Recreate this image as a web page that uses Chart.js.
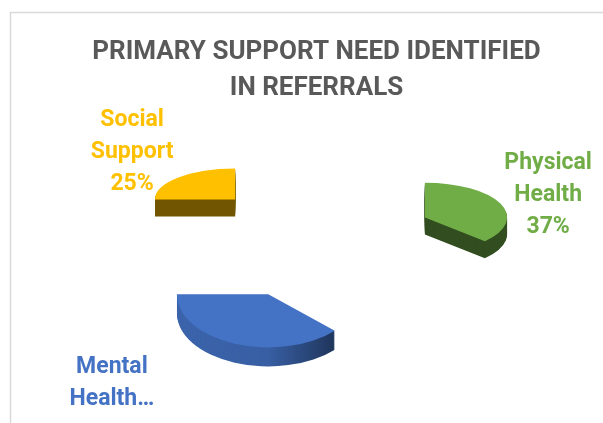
<!DOCTYPE html>
<html>
<head>
<meta charset="utf-8">
<script src="https://cdn.jsdelivr.net/npm/chart.js@4.4.0/dist/chart.umd.min.js"></script>
<style>
  html, body { margin: 0; padding: 0; background: #fff; }
  canvas { display: block; }
</style>
</head>
<body>
<canvas id="chart" width="603" height="423"></canvas>
<script>
// values
const categories = ['Physical Health', 'Mental Health', 'Social Support'];
const shares = [37, 38, 25];
const sliceColors = ['#70AD47', '#4472C4', '#FFC000'];
const titleLines = ['PRIMARY SUPPORT NEED IDENTIFIED', 'IN REFERRALS'];

// where each slice lands once pushed out, squashed and tilted (fake 3D)
function sliceFrame(arc, o) {
  const h = (arc.startAngle + arc.endAngle) / 2;
  const depth = Math.sin(h);                 // -1 at the back, +1 at the front
  const p = 1 + o.perspective * depth;
  return {
    h: h, p: p, depth: depth,
    s: o.tilt + o.tiltGain * depth,
    x: arc.x + Math.cos(h) * o.explode * p,
    y: arc.y + Math.sin(h) * o.explode * o.lift
  };
}

const pie3d = {
  id: 'pie3d',
  beforeDraw(chart) {
    // chart frame, runs off the right and bottom edges like the screenshot
    const ctx = chart.ctx;
    ctx.save();
    ctx.strokeStyle = '#d9d9d9';
    ctx.lineWidth = 1.5;
    ctx.strokeRect(10.5, 12.5, chart.width + 20, chart.height + 20);
    ctx.restore();
  },
  beforeDatasetsDraw(chart, args, o) {
    const ctx = chart.ctx;
    chart.getDatasetMeta(0).data.forEach((arc) => {
      const f = sliceFrame(arc, o);
      const thick = Math.round(o.thickness * f.p);
      const front = f.depth > 0.5;           // curved rim faces the viewer
      const place = (i) => {
        ctx.translate(f.x, f.y + i);
        ctx.scale(f.p, f.s * f.p);
        ctx.translate(-arc.x, -arc.y);
      };
      // side walls
      for (let i = thick; i > 0; i--) {
        ctx.save();
        ctx.filter = 'brightness(' + (front ? o.rimShade : o.shade) + ')';
        place(i);
        arc.draw(ctx);
        ctx.restore();
      }
      if (front) {
        // rim darkens towards its right end
        const r = arc.outerRadius * f.p;
        const g = ctx.createLinearGradient(f.x - r, 0, f.x + r, 0);
        g.addColorStop(0, 'rgba(0,0,0,0)');
        g.addColorStop(0.5, 'rgba(0,0,0,0.05)');
        g.addColorStop(0.85, 'rgba(0,0,0,0.45)');
        g.addColorStop(1, 'rgba(0,0,0,0.6)');
        ctx.save();
        ctx.globalCompositeOperation = 'source-atop';
        ctx.fillStyle = g;
        ctx.fillRect(f.x - r - 2, f.y - r - 2, 2 * r + 4, 2 * r + thick + 4);
        ctx.restore();
      }
      // top face
      ctx.save();
      place(0);
      arc.draw(ctx);
      ctx.restore();
    });
    return false;
  },
  afterDraw(chart, args, o) {
    const ctx = chart.ctx;
    ctx.save();
    ctx.font = 'bold ' + o.labelSize + 'px Roboto, "Open Sans", sans-serif';
    ctx.textAlign = 'center';
    ctx.textBaseline = 'middle';
    chart.getDatasetMeta(0).data.forEach((arc, i) => {
      const f = sliceFrame(arc, o);
      const dist = arc.outerRadius * f.p + o.labelGap;
      const cx = f.x + Math.cos(f.h) * dist + o.nudge[i][0];
      const cy = f.y + Math.sin(f.h) * dist * f.s + o.nudge[i][1];
      const lines = categories[i].split(' ').concat([shares[i] + '%']);
      const y0 = cy - (lines.length - 1) / 2 * o.lineHeight;
      // lines that would fall off the canvas are dropped, Excel style
      const shown = lines.filter((t, k) => y0 + k * o.lineHeight + o.labelSize / 2 < chart.height);
      if (shown.length < lines.length) shown[shown.length - 1] += '\u2026';
      ctx.fillStyle = sliceColors[i];
      shown.forEach((t, k) => ctx.fillText(t, cx, y0 + k * o.lineHeight));
    });
    ctx.restore();
  }
};

new Chart(document.getElementById('chart'), {
  type: 'pie',
  data: {
    labels: categories,
    datasets: [{
      data: shares,
      backgroundColor: sliceColors,
      borderWidth: 0
    }]
  },
  options: {
    responsive: false,
    animation: false,
    radius: 85,
    rotation: 0,
    layout: { padding: { left: 30, right: 0, top: 0, bottom: 49 } },
    plugins: {
      legend: { display: false },
      tooltip: { enabled: false },
      title: {
        display: true,
        text: titleLines,
        color: '#595959',
        font: { family: 'Roboto', size: 26, weight: 'bold', lineHeight: 1.4 },
        padding: { top: 34, bottom: 0 }
      },
      pie3d: {
        explode: 122, lift: 0.475,
        tilt: 0.47, tiltGain: 0.12,
        perspective: 0.08,
        thickness: 18, shade: 0.45, rimShade: 0.88,
        labelSize: 23, lineHeight: 32, labelGap: 40,
        nudge: [[11, -2], [-108, 34], [-18, -14]]
      }
    }
  },
  plugins: [pie3d]
});
</script>
</body>
</html>
